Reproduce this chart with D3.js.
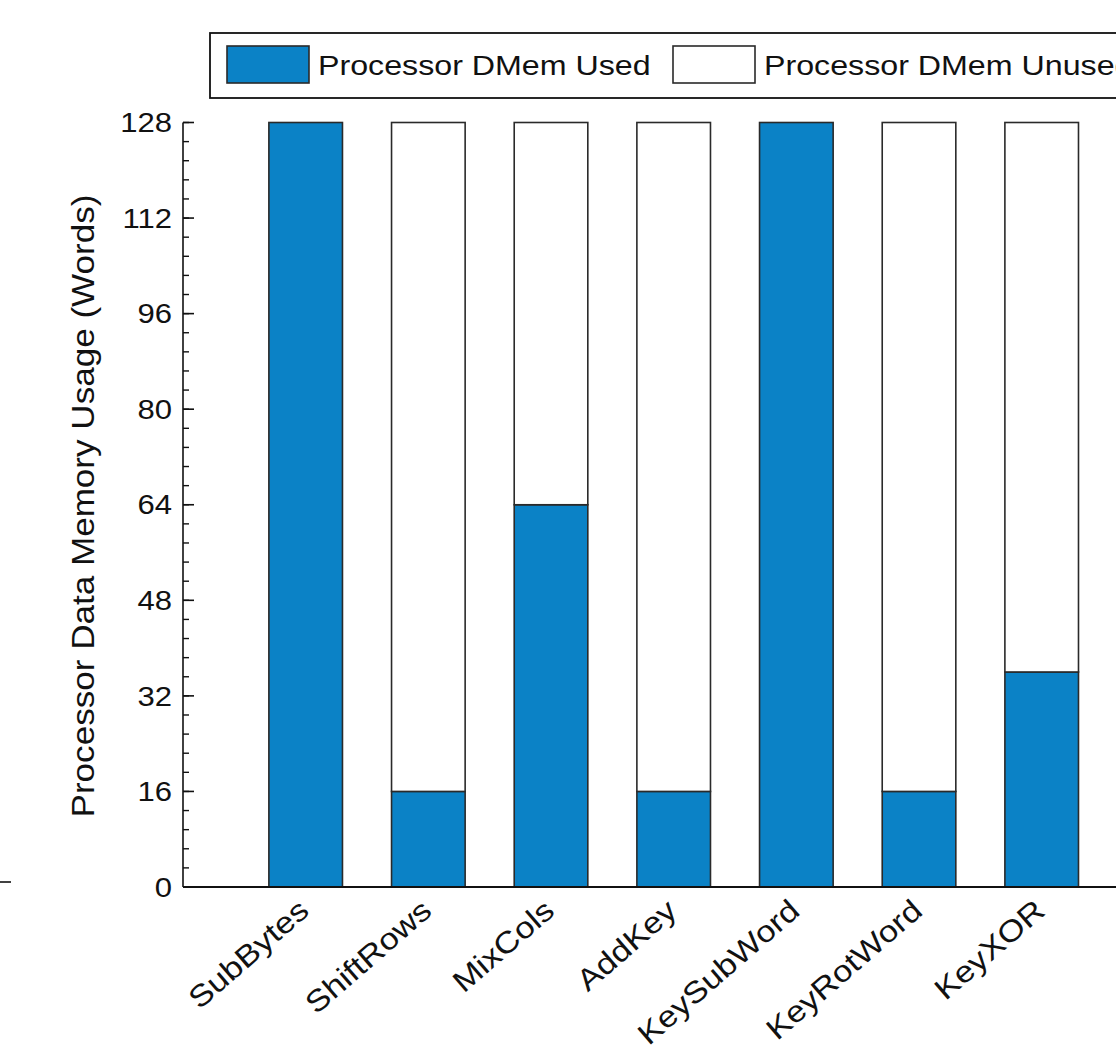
<!DOCTYPE html>
<html><head><meta charset="utf-8">
<script src="https://cdn.jsdelivr.net/npm/d3@7"></script>
<style>html,body{margin:0;padding:0;background:#fff;}svg{display:block;}</style>
</head><body>
<script>
const categories = ["SubBytes","ShiftRows","MixCols","AddKey","KeySubWord","KeyRotWord","KeyXOR"];
const usedValues = [128,16,64,16,128,16,36];
const totalWords = 128;
const unusedValues = usedValues.map(v => totalWords - v);
const seriesNames = ["Processor DMem Used","Processor DMem Unused"];
const yTickValues = [0,16,32,48,64,80,96,112,128];
const yTitle = "Processor Data Memory Usage (Words)";

const W = 1116, H = 1054;
const BLUE = "#0b82c6", STROKE = "#2a2a2a";
const FONT = "'Liberation Sans', Arial, Helvetica, sans-serif";
const SX = 1.15; // horizontal glyph stretch

const svg = d3.select("body").append("svg").attr("width", W).attr("height", H);

const axX = 183, axY0 = 887, axY1 = 122.5;
const x = d3.scaleLinear().domain([0, categories.length + 1]).range([axX, axX + 8 * 122.67]);
const y = d3.scaleLinear().domain([0, totalWords]).range([axY0, axY1]);
const barW = x(0.6) - x(0);

// stacked bars
const stackData = categories.map((c, i) => ({cat: c, used: usedValues[i], unused: unusedValues[i], i}));
const stack = d3.stack().keys(["used","unused"])(stackData);
const fills = [BLUE, "#ffffff"];
stack.forEach((layer, k) => {
  svg.append("g").selectAll("rect").data(layer).join("rect")
    .attr("x", d => x(d.data.i + 1) - barW / 2)
    .attr("width", barW)
    .attr("y", d => y(d[1]))
    .attr("height", d => y(d[0]) - y(d[1]))
    .attr("fill", fills[k])
    .attr("stroke", STROKE)
    .attr("stroke-width", 1.6);
});

// y axis
const yAxisG = svg.append("g");
yAxisG.append("line").attr("x1", axX).attr("x2", axX).attr("y1", y(totalWords)).attr("y2", y(0))
  .attr("stroke", "#111").attr("stroke-width", 1.6);
const minorTicks = d3.range(0, 41).map(k => k * 3.2);
yAxisG.selectAll("line.minor").data(minorTicks).join("line").attr("class","minor")
  .attr("x1", axX).attr("x2", axX + 6).attr("y1", d => y(d)).attr("y2", d => y(d))
  .attr("stroke", "#111").attr("stroke-width", 1.4);
yAxisG.selectAll("line.major").data(yTickValues).join("line").attr("class","major")
  .attr("x1", axX).attr("x2", axX + 11).attr("y1", d => y(d)).attr("y2", d => y(d))
  .attr("stroke", "#111").attr("stroke-width", 1.6);
yAxisG.selectAll("text").data(yTickValues).join("text")
  .attr("transform", d => `translate(${axX - 11},${y(d)}) scale(${SX},1)`)
  .attr("text-anchor", "end").attr("dy", "0.36em")
  .attr("font-family", FONT).attr("font-size", 27).attr("fill", "#111")
  .text(d => d);

// x axis
svg.append("line").attr("x1", axX).attr("x2", W).attr("y1", axY0).attr("y2", axY0)
  .attr("stroke", "#111").attr("stroke-width", 1.8);
svg.append("g").selectAll("text").data(categories).join("text")
  .attr("transform", (d, i) => `translate(${x(i + 1) - 9},${axY0 + 10}) rotate(-41) scale(${SX},1)`)
  .attr("text-anchor", "end").attr("dy", "0.72em")
  .attr("font-family", FONT).attr("font-size", 30).attr("fill", "#111")
  .text(d => d);

// y title
svg.append("text")
  .attr("transform", `translate(94,506) rotate(-90) scale(${SX},1)`)
  .attr("text-anchor", "middle")
  .attr("font-family", FONT).attr("font-size", 30.5).attr("fill", "#111")
  .text(yTitle);

// legend
const lg = svg.append("g");
lg.append("rect").attr("x", 210).attr("y", 33).attr("width", 1000).attr("height", 65)
  .attr("fill", "#fff").attr("stroke", "#111").attr("stroke-width", 1.8);
const legendX = [227, 673];
seriesNames.forEach((name, k) => {
  lg.append("rect").attr("x", legendX[k]).attr("y", 46).attr("width", 82).attr("height", 37)
    .attr("fill", fills[k]).attr("stroke", STROKE).attr("stroke-width", 1.6);
  lg.append("text")
    .attr("transform", `translate(${legendX[k] + 91},65) scale(${SX},1)`)
    .attr("dy", "0.36em")
    .attr("font-family", FONT).attr("font-size", 28).attr("fill", "#111")
    .text(name);
});

// stray mark at left edge
svg.append("line").attr("x1", 0).attr("x2", 11).attr("y1", 882).attr("y2", 882)
  .attr("stroke", "#111").attr("stroke-width", 1.6);
</script>
</body></html>
